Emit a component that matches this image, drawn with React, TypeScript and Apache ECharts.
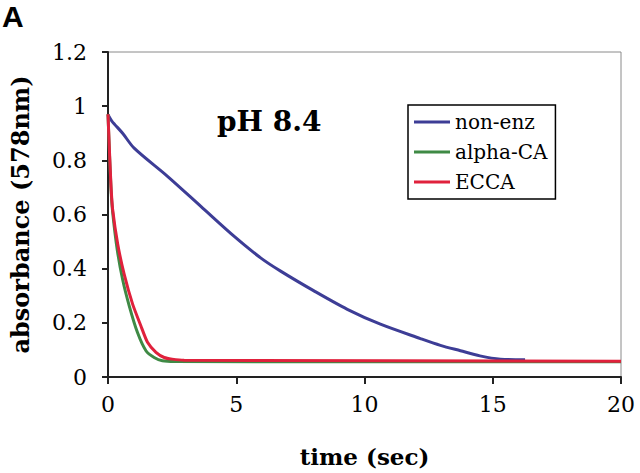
import React, { useEffect, useRef } from "react";
import * as echarts from "echarts";

const seriesNames = ["non-enz", "alpha-CA", "ECCA"];
const seriesColors = ["#3d3d96", "#3f8a45", "#e0213c"];

const nonEnzTime = [0, 0.15, 0.57, 1.02, 2.32, 3.62, 4.91, 5.95, 6.73, 8.03, 9.33, 10.62, 12.18, 12.96, 13.74, 14.5, 15.3, 16.26];
const nonEnzAbs = [0.968, 0.945, 0.9, 0.845, 0.741, 0.63, 0.52, 0.44, 0.391, 0.318, 0.25, 0.195, 0.142, 0.117, 0.097, 0.078, 0.066, 0.064];

const alphaTime = [0, 0.05, 0.12, 0.18, 0.36, 0.57, 0.83, 1.15, 1.48, 1.8, 2.12, 2.6, 20];
const alphaAbs = [0.97, 0.84, 0.69, 0.61, 0.47, 0.36, 0.262, 0.164, 0.097, 0.072, 0.06, 0.057, 0.056];

const eccaTime = [0, 0.05, 0.12, 0.18, 0.38, 0.63, 0.96, 1.28, 1.54, 1.87, 2.19, 2.5, 2.97, 20];
const eccaAbs = [0.97, 0.85, 0.7, 0.62, 0.49, 0.38, 0.269, 0.189, 0.128, 0.091, 0.072, 0.066, 0.062, 0.058];

const xTicks = [0, 5, 10, 15, 20];
const yTicks = [0, 0.2, 0.4, 0.6, 0.8, 1, 1.2];

const pairs = (t: number[], v: number[]) => t.map((x, i) => [x, v[i]]);

export default function App() {
  const ref = useRef<HTMLDivElement>(null);
  useEffect(() => {
    if (!ref.current) return;
    const chart = echarts.init(ref.current, null, { renderer: "svg" });
    const serif = "DejaVu Serif";
    const data = [pairs(nonEnzTime, nonEnzAbs), pairs(alphaTime, alphaAbs), pairs(eccaTime, eccaAbs)];
    chart.setOption({
      animation: false,
      backgroundColor: "#ffffff",
      grid: {
        left: 107,
        right: 19,
        top: 52,
        bottom: 95,
        show: true,
        borderColor: "#8a8a8a",
        borderWidth: 1,
      },
      xAxis: {
        type: "value",
        min: xTicks[0],
        max: xTicks[xTicks.length - 1],
        interval: 5,
        name: "time (sec)",
        nameLocation: "middle",
        nameGap: 68,
        nameTextStyle: { fontFamily: serif, fontWeight: "bold", fontSize: 23, color: "#000" },
        axisLine: { lineStyle: { color: "#222", width: 2 } },
        axisTick: { show: true, length: 7, lineStyle: { color: "#222", width: 2 } },
        axisLabel: { fontFamily: serif, fontSize: 22, color: "#000", margin: 16 },
        splitLine: { show: false },
      },
      yAxis: {
        type: "value",
        min: yTicks[0],
        max: yTicks[yTicks.length - 1],
        interval: 0.2,
        name: "absorbance (578nm)",
        nameLocation: "middle",
        nameGap: 76,
        nameTextStyle: { fontFamily: serif, fontWeight: "bold", fontSize: 24, color: "#000" },
        axisLine: { show: true, lineStyle: { color: "#222", width: 2 } },
        axisTick: { show: true, length: 6, lineStyle: { color: "#222", width: 2 } },
        axisLabel: { fontFamily: serif, fontSize: 22, color: "#000", margin: 21 },
        splitLine: { show: false },
      },
      legend: {
        orient: "vertical",
        left: 408,
        top: 105,
        icon: "rect",
        itemWidth: 36,
        itemHeight: 3,
        itemGap: 8,
        padding: [6, 8, 6, 6],
        borderColor: "#000",
        borderWidth: 1.5,
        backgroundColor: "#fff",
        textStyle: { fontFamily: serif, fontSize: 20, color: "#000", lineHeight: 22 },
        data: seriesNames,
      },
      graphic: [
        {
          type: "text",
          left: 2,
          top: 1,
          style: { text: "A", font: "bold 30px 'Liberation Sans'", fill: "#000" },
        },
        {
          type: "text",
          left: 217,
          top: 107,
          style: { text: "pH 8.4", font: "bold 28px 'DejaVu Serif'", fill: "#000" },
        },
      ],
      series: seriesNames.map((name, i) => ({
        name,
        type: "line",
        data: data[i],
        showSymbol: false,
        symbol: "none",
        smooth: i === 0 ? 0.3 : 0.2,
        lineStyle: { color: seriesColors[i], width: 3 },
        itemStyle: { color: seriesColors[i] },
      })),
    });
    return () => chart.dispose();
  }, []);
  return <div ref={ref} style={{ width: 640, height: 473, position: "absolute", left: 0, top: 0 }} />;
}
